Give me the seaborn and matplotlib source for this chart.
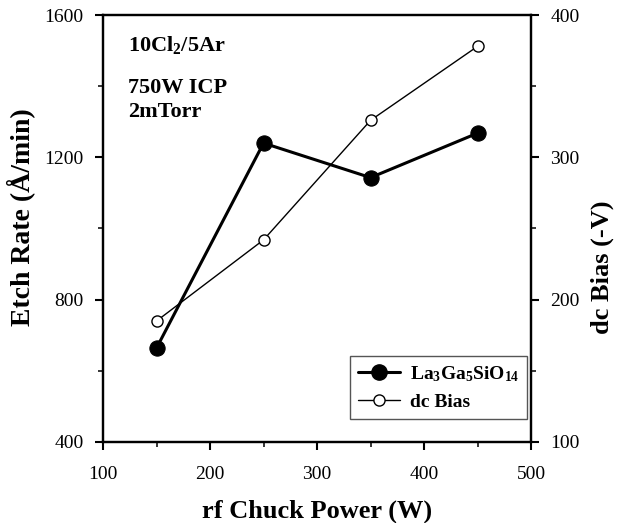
import matplotlib
matplotlib.use('Agg')
import matplotlib.pyplot as plt
import seaborn as sns
import pandas as pd
from matplotlib.lines import Line2D
from matplotlib.ticker import MultipleLocator

# 数据
power = [150, 250, 350, 450]
etch_rate = [664, 1240, 1143, 1268]
dc_bias = [185, 242, 326, 378]
legend_labels = ['La$_3$Ga$_5$SiO$_{14}$', 'dc Bias']
conditions = ['10Cl$_2$/5Ar', '750W ICP', '2mTorr']

df = pd.DataFrame({'power': power, 'etch': etch_rate, 'bias': dc_bias})

sns.set_style('ticks')
plt.rcParams['font.family'] = ['Liberation Serif', 'DejaVu Serif']
plt.rcParams['mathtext.fontset'] = 'custom'
plt.rcParams['mathtext.rm'] = 'Liberation Serif:bold'
plt.rcParams['mathtext.bf'] = 'Liberation Serif:bold'
plt.rcParams['mathtext.default'] = 'bf'
plt.rcParams['text.color'] = 'black'
plt.rcParams['axes.labelcolor'] = 'black'

fig = plt.figure(figsize=(6.19, 5.23), dpi=100)
ax = fig.add_axes([0.1664, 0.1549, 0.6916, 0.8164])
ax2 = ax.twinx()

sns.lineplot(data=df, x='power', y='etch', ax=ax, color='black', lw=2.2,
             marker='o', markersize=11, markerfacecolor='black',
             markeredgecolor='black')
sns.lineplot(data=df, x='power', y='bias', ax=ax2, color='black', lw=1.0,
             marker='o', markersize=8, markerfacecolor='white',
             markeredgecolor='black', markeredgewidth=1.0)

ax.set_xlim(100, 500)
ax.set_ylim(400, 1600)
ax2.set_ylim(100, 400)
ax.set_xticks([100, 200, 300, 400, 500])
ax.set_yticks([400, 800, 1200, 1600])
ax2.set_yticks([100, 200, 300, 400])
ax.xaxis.set_minor_locator(MultipleLocator(50))
ax.yaxis.set_minor_locator(MultipleLocator(200))
ax2.yaxis.set_minor_locator(MultipleLocator(50))

for a in (ax, ax2):
    for s in a.spines.values():
        s.set_linewidth(1.6)
        s.set_color('black')
    a.tick_params(which='major', direction='out', length=6, width=1.5,
                  labelsize=14, colors='black', pad=8)
    a.tick_params(which='minor', direction='out', length=3.5, width=1.3)
ax.tick_params(axis='x', pad=11)

ax.set_xlabel('rf Chuck Power (W)', fontsize=19, fontweight='bold', labelpad=12)
ax.set_ylabel('Etch Rate (Å/min)', fontsize=20, fontweight='bold')
ax2.set_ylabel('dc Bias (-V)', fontsize=19, fontweight='bold')
ax.yaxis.set_label_coords(-0.158, 0.527)
ax2.yaxis.set_label_coords(1.138, 0.41)

# 工艺条件标注
ys = [0.93, 0.83, 0.772]
for txt, y in zip(conditions, ys):
    ax.text(0.058, y, txt, transform=ax.transAxes, fontsize=16,
            fontweight='bold', va='center', ha='left')

handles = [
    Line2D([], [], color='black', lw=2.2, marker='o', markersize=11,
           markerfacecolor='black'),
    Line2D([], [], color='black', lw=1.0, marker='o', markersize=8,
           markerfacecolor='white', markeredgewidth=1.0),
]
leg = ax.legend(handles, legend_labels, loc='lower right',
                bbox_to_anchor=(0.991, 0.054), borderaxespad=0,
                fancybox=False, edgecolor='#555555', framealpha=1,
                prop={'weight': 'bold', 'size': 14}, handlelength=2.2,
                handletextpad=0.5)
leg.get_frame().set_linewidth(1.0)

fig.savefig('out.png', dpi=100)
